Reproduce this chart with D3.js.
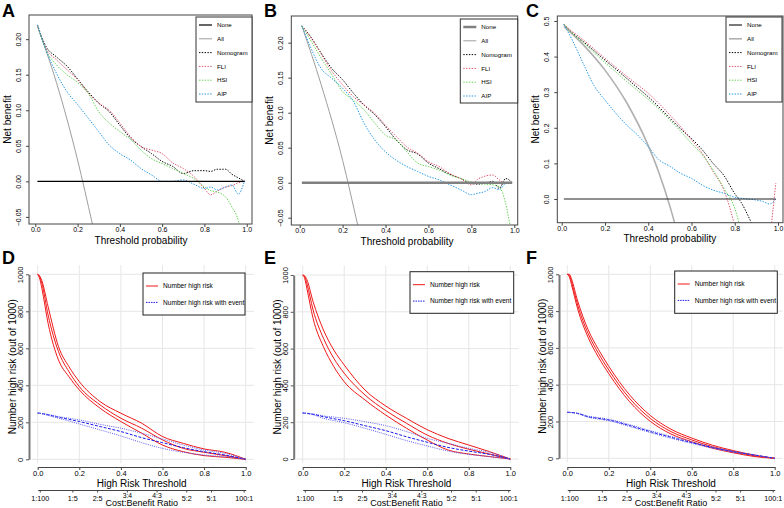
<!DOCTYPE html>
<html>
<head>
<meta charset="utf-8">
<script src="https://cdn.jsdelivr.net/npm/d3@7"></script>
<style>
  body { margin: 0; background: #fff; }
  svg { display: block; font-family: "Liberation Sans", Arial, sans-serif; }
</style>
</head>
<body>
<svg id="chart" width="784" height="508"></svg>
<script>
// Decision curves (top row) and clinical impact curves (bottom row)

// ---- decision curve data ----
const nbT = [0.01, 0.05, 0.10, 0.15, 0.20, 0.25, 0.30, 0.35, 0.40, 0.45, 0.50, 0.55,
  0.60, 0.65, 0.70, 0.75, 0.80, 0.83, 0.86, 0.90, 0.93, 0.96, 0.99];
const nbNames = ["None", "All", "Nomogram", "FLI", "HSI", "AIP"];

const allT = [0.01, 0.10, 0.20, 0.27, 0.30];
const aAll = [0.218, 0.139, 0.030, -0.060, -0.100];
const aNomogram = [0.220, 0.190, 0.175, 0.162, 0.144, 0.126, 0.110, 0.098, 0.079, 0.061, 0.049, 0.039,
  0.028, 0.021, 0.011, 0.015, 0.015, 0.014, 0.017, 0.017, 0.010, 0.005, 0.000];
const aFLI = [0.220, 0.187, 0.171, 0.157, 0.143, 0.124, 0.110, 0.100, 0.082, 0.063, 0.049, 0.044,
  0.039, 0.026, 0.018, 0.007, -0.010, -0.019, -0.014, -0.008, -0.006, -0.002, 0.000];
const aHSI = [0.220, 0.185, 0.164, 0.150, 0.139, 0.124, 0.098, 0.082, 0.070, 0.059, 0.044, 0.032,
  0.025, 0.018, 0.011, 0.004, -0.008, -0.013, -0.015, -0.022, -0.036, -0.055, -0.100];
const aAIP = [0.220, 0.185, 0.152, 0.126, 0.108, 0.089, 0.070, 0.051, 0.039, 0.030, 0.018, 0.009,
  0.000, 0.000, 0.002, -0.004, -0.010, -0.008, -0.012, -0.008, -0.005, -0.018, 0.001];

const bAll = [0.224, 0.140, 0.032, -0.060, -0.100];
const bNomogram = [0.224, 0.209, 0.185, 0.163, 0.147, 0.128, 0.111, 0.097, 0.080, 0.061, 0.047, 0.041,
  0.028, 0.020, 0.012, 0.006, -0.001, -0.002, -0.001, 0.002, -0.008, 0.006, 0.000];
const bFLI = [0.224, 0.208, 0.184, 0.159, 0.140, 0.123, 0.111, 0.099, 0.082, 0.066, 0.051, 0.042,
  0.030, 0.023, 0.013, 0.006, -0.003, 0.005, 0.009, 0.011, 0.004, -0.001, 0.000];
const bHSI = [0.224, 0.204, 0.178, 0.154, 0.130, 0.118, 0.104, 0.085, 0.068, 0.061, 0.044, 0.028,
  0.023, 0.018, 0.011, 0.006, 0.001, -0.001, -0.002, -0.003, -0.006, -0.030, -0.080];
const bAIP = [0.224, 0.194, 0.163, 0.149, 0.135, 0.116, 0.085, 0.061, 0.044, 0.032, 0.023, 0.016,
  0.009, 0.004, -0.003, -0.010, -0.017, -0.015, -0.013, -0.007, -0.010, -0.001, 0.000];

const allTC = [0.01, 0.10, 0.20, 0.30, 0.40, 0.45, 0.50, 0.55];
const cAll = [0.485, 0.433, 0.362, 0.271, 0.150, 0.073, -0.020, -0.130];
const cNomogram = [0.490, 0.466, 0.442, 0.416, 0.390, 0.365, 0.339, 0.313, 0.287, 0.258, 0.227, 0.197,
  0.170, 0.138, 0.100, 0.066, 0.015, -0.010, -0.045, -0.100, -0.150, -0.200, -0.250];
const cFLI = [0.490, 0.470, 0.447, 0.421, 0.395, 0.370, 0.345, 0.321, 0.297, 0.268, 0.236, 0.203,
  0.166, 0.128, 0.077, 0.025, -0.075, -0.150, -0.200, -0.250, -0.250, -0.120, 0.045];
const cHSI = [0.490, 0.465, 0.439, 0.411, 0.383, 0.357, 0.330, 0.305, 0.280, 0.252, 0.222, 0.190,
  0.156, 0.124, 0.081, 0.030, -0.026, -0.090, -0.150, -0.200, -0.250, -0.250, -0.250];
const cAIP = [0.490, 0.445, 0.380, 0.318, 0.278, 0.241, 0.208, 0.180, 0.147, 0.110, 0.092, 0.072,
  0.058, 0.039, 0.025, 0.016, 0.005, 0.002, 0.000, -0.003, -0.007, -0.014, 0.000];

// ---- clinical impact data (out of 1000) ----
const ciT = [0, 0.01, 0.02, 0.05, 0.10, 0.15, 0.20, 0.30, 0.40, 0.50, 0.60, 0.70, 0.80, 0.90, 1.00];
const ciNames = ["Number high risk", "Number high risk with event"];

const dRiskHi = [1000, 990, 965, 825, 609, 501, 420, 312, 249, 195, 123, 86, 56, 38, 0];
const dRisk = [1000, 985, 951, 780, 582, 474, 393, 294, 222, 168, 105, 59, 38, 20, 0];
const dRiskLo = [1000, 975, 924, 735, 537, 447, 375, 276, 204, 141, 77, 41, 20, 11, 0];
const dEventHi = [250, 249, 248, 243, 231, 222, 213, 189, 168, 141, 110, 77, 50, 32, 0];
const dEvent = [250, 249, 247, 240, 227, 216, 204, 177, 150, 117, 90, 63, 41, 23, 0];
const dEventLo = [250, 248, 246, 237, 222, 207, 191, 159, 126, 90, 59, 38, 23, 14, 0];

const eRiskHi = [1000, 995, 975, 855, 701, 592, 511, 375, 288, 221, 159, 112, 76, 40, 0];
const eRisk = [1000, 990, 955, 810, 656, 547, 466, 348, 263, 194, 130, 85, 53, 27, 0];
const eRiskLo = [1000, 980, 928, 764, 610, 502, 420, 321, 239, 167, 103, 49, 27, 13, 0];
const eEventHi = [250, 250, 249, 245, 234, 228, 221, 203, 181, 149, 112, 85, 58, 36, 0];
const eEvent = [250, 249, 248, 243, 230, 219, 208, 181, 154, 121, 91, 63, 43, 25, 0];
const eEventLo = [250, 249, 247, 240, 221, 209, 197, 167, 134, 100, 71, 43, 25, 13, 0];

const fRiskHi = [1000, 1000, 975, 855, 700, 592, 500, 345, 233, 158, 110, 71, 42, 18, 0];
const fRisk = [1000, 995, 960, 833, 679, 571, 480, 326, 217, 145, 100, 63, 36, 14, 0];
const fRiskLo = [1000, 985, 945, 812, 658, 550, 460, 308, 201, 132, 90, 55, 30, 10, 0];
const fEventHi = [250, 250, 249, 245, 229, 221, 212, 183, 150, 119, 89, 61, 38, 19, 0];
const fEvent = [250, 250, 249, 244, 226, 217, 208, 178, 145, 114, 85, 58, 36, 18, 0];
const fEventLo = [250, 249, 248, 242, 223, 213, 204, 173, 140, 109, 81, 55, 34, 17, 0];

// ---- ticks ----
const nbXTicks = [0, 0.2, 0.4, 0.6, 0.8, 1.0];
const nbYTicksAB = [-0.05, 0, 0.05, 0.10, 0.15, 0.20];
const nbYTicksC = [0, 0.1, 0.2, 0.3, 0.4, 0.5];
const ciYTicks = [0, 200, 400, 600, 800, 1000];
const cbTicks = [0.0099, 0.1667, 0.2857, 0.4286, 0.5714, 0.7143, 0.8333, 0.9901];
const cbLabels = ["1:100", "1:5", "2:5", "3:4", "4:3", "5:2", "5:1", "100:1"];

const svg = d3.select("#chart");
const FLI_COL = "#DF536B", HSI_COL = "#61D04F", AIP_COL = "#2297E6", ALL_COL = "#9E9E9E";

// per-panel layout (pixels) for the decision curves
const nbPanels = [
  { id: "A", lx: 2, box: [29, 252, 15, 224], xr: [35.3, 246.7], yd: [-0.060, 0.234], yTicks: nbYTicksAB, fmt: d3.format(".2f"),
    all: aAll, allT: allT, series: [aNomogram, aFLI, aHSI, aAIP], leg: [196, 252, 17, 102],
    none: { c: "#000", w: 1.2 }, allStyle: { c: ALL_COL, w: 1 } },
  { id: "B", lx: 264, box: [291.3, 517.7, 16, 225], xr: [299.7, 514.3], yd: [-0.0604, 0.2381], yTicks: nbYTicksAB, fmt: d3.format(".2f"),
    all: bAll, allT: allT, series: [bNomogram, bFLI, bHSI, bAIP], leg: [460.3, 517.7, 19, 103],
    none: { c: "#808080", w: 2.5 }, allStyle: { c: ALL_COL, w: 1 } },
  { id: "C", lx: 526, box: [557.3, 783, 16, 222.7], xr: [561.7, 778], yd: [-0.0666, 0.514], yTicks: nbYTicksC, fmt: d3.format(".1f"),
    all: cAll, allT: allTC, series: [cNomogram, cFLI, cHSI, cAIP], leg: [726, 782, 17, 102],
    none: { c: "#222", w: 1.2 }, allStyle: { c: "#B0B0B0", w: 1.6 } }
];

function panelLetter(x, y, t) {
  svg.append("text").attr("x", x).attr("y", y).attr("font-size", 18).attr("font-weight", "bold").text(t);
}

function rotLabel(g, x, y, txt, size) {
  g.append("text").attr("transform", `translate(${x},${y}) rotate(-90)`)
    .attr("text-anchor", "middle").attr("font-size", size).text(txt);
}

function drawNB(p, idx) {
  const [l, r, t, b] = p.box;
  const x = d3.scaleLinear().domain([0, 1]).range(p.xr);
  const y = d3.scaleLinear().domain(p.yd).range([b, t]);
  const g = svg.append("g");
  const clipId = "clipnb" + idx;
  svg.append("clipPath").attr("id", clipId).append("rect")
    .attr("x", l).attr("y", t).attr("width", r - l).attr("height", b - t);

  const plot = g.append("g").attr("clip-path", `url(#${clipId})`);
  const line = d3.line().x(d => x(d[0])).y(d => y(d[1])).curve(d3.curveMonotoneX);

  // All
  plot.append("path").datum(p.allT.map((tt, i) => [tt, p.all[i]]))
    .attr("d", line)
    .attr("fill", "none").attr("stroke", p.allStyle.c).attr("stroke-width", p.allStyle.w);

  const cols = ["#000", FLI_COL, HSI_COL, AIP_COL];
  p.series.forEach((s, i) => {
    plot.append("path").datum(nbT.map((tt, j) => [tt, s[j]]))
      .attr("d", line).attr("fill", "none")
      .attr("stroke", cols[i]).attr("stroke-width", 1)
      .attr("stroke-dasharray", "1.4,1.4");
  });

  // None
  g.append("line").attr("x1", x(0.01)).attr("x2", x(0.99)).attr("y1", y(0)).attr("y2", y(0))
    .attr("stroke", p.none.c).attr("stroke-width", p.none.w);

  // box
  g.append("rect").attr("x", l).attr("y", t).attr("width", r - l).attr("height", b - t)
    .attr("fill", "none").attr("stroke", "#444").attr("stroke-width", 1);

  // x axis
  const xa = g.append("g").attr("transform", `translate(0,${b})`)
    .call(d3.axisBottom(x).tickValues(nbXTicks).tickFormat(d3.format(".1f")).tickSize(3).tickSizeOuter(0));
  xa.select(".domain").remove();
  xa.selectAll("line").attr("stroke", "#444");
  xa.selectAll("text").attr("font-size", 7).attr("y", 3.5).attr("dy", "0.71em").attr("fill", "#000");
  g.append("text").attr("x", (p.xr[0] + p.xr[1]) / 2).attr("y", b + 19.5).attr("text-anchor", "middle")
    .attr("font-size", 10).text("Threshold probability");

  // y axis
  const ya = g.append("g").attr("transform", `translate(${l},0)`)
    .call(d3.axisLeft(y).tickValues(p.yTicks).tickFormat(p.fmt).tickSize(3).tickSizeOuter(0));
  ya.select(".domain").remove();
  ya.selectAll("line").attr("stroke", "#444");
  ya.selectAll("text").attr("x", 0).attr("y", -8).attr("dy", 0).attr("font-size", 7)
    .attr("text-anchor", "middle").attr("transform", "rotate(-90)").attr("fill", "#000");
  rotLabel(g, l - 18, (t + b) / 2, "Net benefit", 10);

  // legend
  const [lx0, lx1, ly0, ly1] = p.leg;
  g.append("rect").attr("x", lx0).attr("y", ly0).attr("width", lx1 - lx0).attr("height", ly1 - ly0)
    .attr("fill", "#fff").attr("stroke", "#333").attr("stroke-width", 1);
  const legStyles = [
    { c: p.none.c, w: p.none.w, d: null },
    { c: p.allStyle.c, w: p.allStyle.w, d: null },
    { c: "#000", w: 1, d: "1.4,1.4" },
    { c: FLI_COL, w: 1, d: "1.4,1.4" },
    { c: HSI_COL, w: 1, d: "1.4,1.4" },
    { c: AIP_COL, w: 1, d: "1.4,1.4" }
  ];
  nbNames.forEach((n, i) => {
    const yy = ly0 + 8 + i * 13.8;
    g.append("line").attr("x1", lx0 + 3).attr("x2", lx0 + 16).attr("y1", yy).attr("y2", yy)
      .attr("stroke", legStyles[i].c).attr("stroke-width", legStyles[i].w)
      .attr("stroke-dasharray", legStyles[i].d);
    g.append("text").attr("x", lx0 + 21).attr("y", yy + 2.2).attr("font-size", 6.2).text(n);
  });

  panelLetter(p.lx, 17, p.id);
}

nbPanels.forEach(drawNB);

// ---- clinical impact panels ----
const ciPanels = [
  { id: "D", lx: 2, ax: 29, xr: [37.7, 245.7], yr: [459.3, 274.3], leg: [143, 245, 273, 315],
    risk: [dRiskHi, dRisk, dRiskLo], event: [dEventHi, dEvent, dEventLo] },
  { id: "E", lx: 264, ax: 293.7, xr: [302.7, 510.3], yr: [459, 275], leg: [410, 513.7, 271.7, 313.3],
    risk: [eRiskHi, eRisk, eRiskLo], event: [eEventHi, eEvent, eEventLo] },
  { id: "F", lx: 526, ax: 559, xr: [567.3, 774.7], yr: [458.3, 274.3], leg: [674.7, 777.3, 271, 313.3],
    risk: [fRiskHi, fRisk, fRiskLo], event: [fEventHi, fEvent, fEventLo] }
];

function drawCI(p) {
  const x = d3.scaleLinear().domain([0, 1]).range(p.xr);
  const y = d3.scaleLinear().domain([0, 1000]).range(p.yr);
  const g = svg.append("g");

  // grid
  g.selectAll(".gv").data(nbXTicks).join("line")
    .attr("x1", d => x(d)).attr("x2", d => x(d)).attr("y1", y(1050)).attr("y2", y(-22))
    .attr("stroke", "#e6e6e6").attr("stroke-width", 1);
  g.selectAll(".gh").data(ciYTicks).join("line")
    .attr("x1", x(-0.03)).attr("x2", x(1.04)).attr("y1", d => y(d)).attr("y2", d => y(d))
    .attr("stroke", "#e6e6e6").attr("stroke-width", 1);

  const line = d3.line().x(d => x(d[0])).y(d => y(d[1])).curve(d3.curveMonotoneX);
  p.risk.forEach(s => {
    g.append("path").datum(ciT.map((t, i) => [t, s[i]])).attr("d", line)
      .attr("fill", "none").attr("stroke", "#f01818").attr("stroke-width", 1);
  });
  p.event.forEach((s, k) => {
    g.append("path").datum(ciT.map((t, i) => [t, s[i]])).attr("d", line)
      .attr("fill", "none").attr("stroke", k === 1 ? "#1a1aee" : "#5a5af0").attr("stroke-width", 1)
      .attr("stroke-dasharray", k === 1 ? "3,1.5" : "1,1.2");
  });

  // y axis
  const ya = g.append("g").attr("transform", `translate(${p.ax},0)`)
    .call(d3.axisLeft(y).tickValues(ciYTicks).tickFormat(d3.format("d")).tickSize(3).tickSizeOuter(0));
  ya.select(".domain").attr("stroke", "#777").attr("stroke-width", 2);
  ya.selectAll("line").attr("stroke", "#555");
  ya.selectAll("text").attr("x", 0).attr("y", -6).attr("dy", 0).attr("font-size", 7.5)
    .attr("text-anchor", "middle").attr("transform", "rotate(-90)").attr("fill", "#000");
  rotLabel(g, p.ax - 13, (p.yr[0] + p.yr[1]) / 2, "Number high risk (out of 1000)", 10);

  // threshold axis
  const xa = g.append("g").attr("transform", "translate(0,467)")
    .call(d3.axisBottom(x).tickValues(nbXTicks).tickFormat(d3.format(".1f")).tickSize(3).tickSizeOuter(0));
  xa.select(".domain").attr("stroke", "#444");
  xa.selectAll("line").attr("stroke", "#444");
  xa.selectAll("text").attr("font-size", 7.5).attr("y", 3.5).attr("dy", "0.71em").attr("fill", "#000");
  g.append("text").attr("x", (p.xr[0] + p.xr[1]) / 2).attr("y", 486.5).attr("text-anchor", "middle")
    .attr("font-size", 10).text("High Risk Threshold");

  // cost:benefit axis
  const ca = g.append("g").attr("transform", "translate(0,490)")
    .call(d3.axisBottom(x).tickValues(cbTicks).tickFormat((d, i) => cbLabels[i]).tickSize(2.5).tickSizeOuter(0));
  ca.select(".domain").attr("stroke", "#444");
  ca.selectAll("line").attr("stroke", "#444");
  ca.selectAll("text").attr("font-size", (d, i) => (i === 3 || i === 4) ? 6.8 : 7.2)
    .attr("y", (d, i) => (i === 3 || i === 4) ? 3 : 5.5).attr("dy", "0.71em").attr("fill", "#000");
  g.append("text").attr("x", (p.xr[0] + p.xr[1]) / 2).attr("y", 505.6).attr("text-anchor", "middle")
    .attr("font-size", 9).text("Cost:Benefit Ratio");

  // legend
  const [lx0, lx1, ly0, ly1] = p.leg;
  g.append("rect").attr("x", lx0).attr("y", ly0).attr("width", lx1 - lx0).attr("height", ly1 - ly0)
    .attr("fill", "#fff").attr("stroke", "#222").attr("stroke-width", 1);
  ciNames.forEach((n, i) => {
    const yy = ly0 + 13 + i * 16.4;
    g.append("line").attr("x1", lx0 + 3).attr("x2", lx0 + 15).attr("y1", yy).attr("y2", yy)
      .attr("stroke", i === 0 ? "#f01818" : "#1a1aee").attr("stroke-width", 1)
      .attr("stroke-dasharray", i === 0 ? null : "1.5,1");
    g.append("text").attr("x", lx0 + 20).attr("y", yy + 2.2).attr("font-size", 6.6).text(n);
  });

  panelLetter(p.lx, 264, p.id);
}

ciPanels.forEach(drawCI);
</script>
</body>
</html>
